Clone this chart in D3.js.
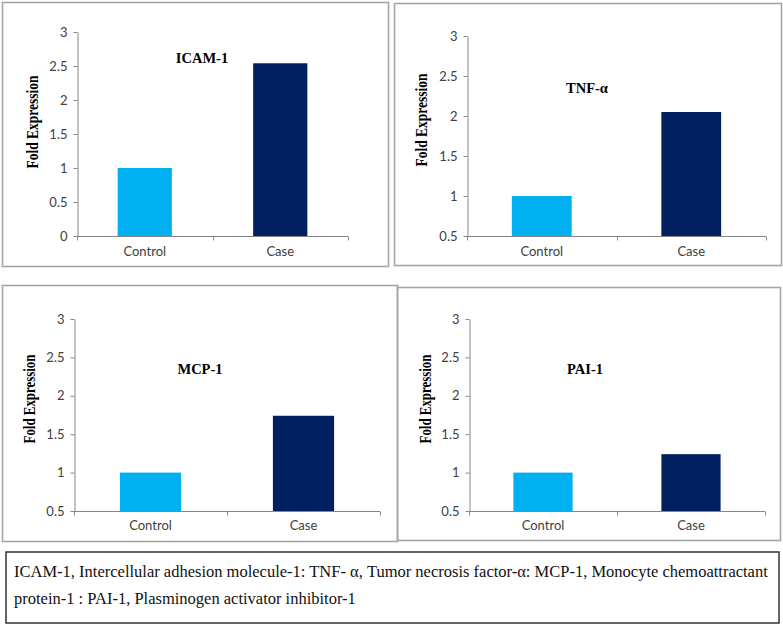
<!DOCTYPE html>
<html>
<head>
<meta charset="utf-8">
<script src="https://cdn.jsdelivr.net/npm/d3@7"></script>
<style>
  body { margin: 0; background: #fff; }
  svg { display: block; }
</style>
</head>
<body>
<svg id="chart" width="783" height="627"></svg>
<script>
// ── data ────────────────────────────────────────────────────────────────
const groups = ["Control", "Case"];
const markers = ["ICAM-1", "TNF-α", "MCP-1", "PAI-1"];
const controlValues = [1, 1, 1, 1];
const caseValues = [2.54, 2.05, 1.74, 1.24];
const yMinValues = [0, 0.5, 0.5, 0.5];
const yMax = 3;
const footnoteLines = [
  "ICAM-1, Intercellular adhesion molecule-1: TNF- α, Tumor necrosis factor-α: MCP-1, Monocyte chemoattractant",
  "protein-1 : PAI-1, Plasminogen activator inhibitor-1"
];

// ── layout of the four panels (frame box, plot box, label spots) ──────────
const layout = [
  { frame: [2, 2, 388, 266],   plot: [77, 32, 348, 236],   title: [202, 63],  ylab: [38, 122],  ylabLen: 93, xlabY: 256 },
  { frame: [394, 3, 781, 265], plot: [467, 36, 766, 236],  title: [587, 93],  ylab: [427, 120], ylabLen: 93, xlabY: 256 },
  { frame: [2, 285, 397, 541], plot: [74, 319, 380, 511],  title: [200, 374], ylab: [35, 399],  ylabLen: 89, xlabY: 530 },
  { frame: [397, 287, 780, 540], plot: [469, 319, 765, 511], title: [585, 374], ylab: [431, 399], ylabLen: 89, xlabY: 530 }
];

const colors = { Control: "#00b0f0", Case: "#002060" };
const axisColor = "#868686";
const tickFont = "Lato, 'Open Sans', sans-serif";
const serif = "'Liberation Serif', 'Times New Roman', serif";

const svg = d3.select("#chart");

markers.forEach((name, i) => {
  const L = layout[i];
  const [fx0, fy0, fx1, fy1] = L.frame;
  const [px0, py0, px1, py1] = L.plot;
  const g = svg.append("g");

  // panel frame
  g.append("rect")
    .attr("x", fx0 + 0.5).attr("y", fy0 + 0.5)
    .attr("width", fx1 - fx0).attr("height", fy1 - fy0)
    .attr("fill", "none")
    .attr("stroke", "#a6a6a6")
    .attr("stroke-width", 1.6);

  const x = d3.scaleBand()
    .domain(groups)
    .range([px0, px1])
    .paddingInner(0.6)
    .paddingOuter(0.3);

  const y = d3.scaleLinear()
    .domain([yMinValues[i], yMax])
    .range([py1, py0]);

  const vals = { Control: controlValues[i], Case: caseValues[i] };

  // bars
  g.append("g")
    .selectAll("rect")
    .data(groups)
    .join("rect")
      .attr("x", d => x(d))
      .attr("y", d => y(vals[d]))
      .attr("width", x.bandwidth())
      .attr("height", d => y(yMinValues[i]) - y(vals[d]))
      .attr("fill", d => colors[d]);

  // y axis
  const yTicks = d3.range(yMinValues[i], yMax + 0.001, 0.5);
  const yAxis = g.append("g")
    .attr("transform", `translate(${px0 + 0.5},0)`)
    .call(d3.axisLeft(y).tickValues(yTicks).tickSize(4).tickSizeOuter(0).tickPadding(6)
      .tickFormat(d3.format("~g")));
  yAxis.select(".domain").attr("stroke", axisColor);
  yAxis.selectAll(".tick line").attr("stroke", axisColor);
  yAxis.selectAll(".tick text")
    .attr("fill", "#404040")
    .style("font-family", tickFont)
    .style("font-size", "13px");

  // x axis: line with ticks at category edges
  const bx = y(yMinValues[i]) + 0.5;
  g.append("line")
    .attr("x1", px0).attr("x2", px1)
    .attr("y1", bx).attr("y2", bx)
    .attr("stroke", axisColor);
  const edges = [px0, px0 + (px1 - px0) / 2, px1];
  g.selectAll(".xt")
    .data(edges)
    .join("line")
      .attr("x1", d => Math.round(d) + 0.5).attr("x2", d => Math.round(d) + 0.5)
      .attr("y1", bx).attr("y2", bx + 4)
      .attr("stroke", axisColor);

  g.selectAll(".xl")
    .data(groups)
    .join("text")
      .attr("x", d => x(d) + x.bandwidth() / 2)
      .attr("y", L.xlabY)
      .attr("text-anchor", "middle")
      .attr("fill", "#404040")
      .style("font-family", tickFont)
      .style("font-size", "13px")
      .text(d => d);

  // panel title
  g.append("text")
    .attr("x", L.title[0]).attr("y", L.title[1])
    .attr("text-anchor", "middle")
    .style("font-family", serif)
    .style("font-weight", "bold")
    .style("font-size", "14.5px")
    .text(name);

  // y label (narrow, condensed look)
  g.append("text")
    .attr("transform", `translate(${L.ylab[0]},${L.ylab[1]}) rotate(-90)`)
    .attr("text-anchor", "middle")
    .attr("textLength", L.ylabLen)
    .attr("lengthAdjust", "spacingAndGlyphs")
    .style("font-family", serif)
    .style("font-weight", "bold")
    .style("font-size", "16px")
    .text("Fold Expression");
});

// ── footnote box ────────────────────────────────────────────────────────
svg.append("rect")
  .attr("x", 6).attr("y", 552)
  .attr("width", 773).attr("height", 71)
  .attr("fill", "none")
  .attr("stroke", "#333")
  .attr("stroke-width", 1.5);

svg.append("g")
  .selectAll("text")
  .data(footnoteLines)
  .join("text")
    .attr("x", 14)
    .attr("y", (d, k) => 577 + k * 27)
    .style("font-family", serif)
    .style("font-size", "16.5px")
    .attr("fill", "#111")
    .text(d => d);
</script>
</body>
</html>
